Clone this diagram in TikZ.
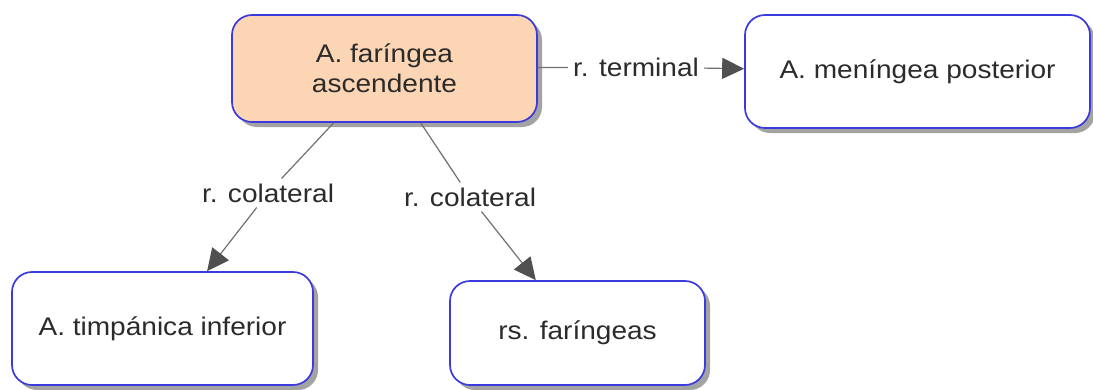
\documentclass[tikz,border=0pt]{standalone}
\usepackage{fontspec}
\setmainfont[FakeStretch=1.1]{Liberation Sans}
\usepackage{xcolor}
\usepackage{tikz}
\usetikzlibrary{arrows.meta, shadows}

\definecolor{boxblue}{HTML}{3B3BDD}
\definecolor{peach}{HTML}{FCD5B4}
\definecolor{linegray}{HTML}{707070}
\definecolor{tipgray}{HTML}{505050}
\definecolor{txtgray}{HTML}{2B2B2B}

\tikzset{
    concept/.style={draw=boxblue, line width=1.7pt, fill=white, rounded corners=20pt,
        align=center, text=txtgray, font=\fontsize{25.5}{30}\selectfont,
        drop shadow={shadow xshift=5pt, shadow yshift=-5pt, fill=gray!80, opacity=0.9}},
    linklabel/.style={text=txtgray, font=\fontsize{25.5}{30}\selectfont, inner sep=5pt},
    link/.style={draw=linegray, line width=1.2pt},
    linkarrow/.style={link, -{Triangle[length=22pt, width=21pt, color=tipgray]}}
}

\begin{document}
\begin{tikzpicture}[x=1pt, y=-1pt]

    \useasboundingbox (0,0) rectangle (1093,389);

    % -------------------------
    % Concepts
    % -------------------------
    \node[concept, fill=peach, minimum width=305pt, minimum height=107pt]
        (faringea) at (384.5,68.5) {A. faríngea\\ascendente};
    \node[concept, minimum width=345pt, minimum height=113pt]
        (meningea) at (917.5,71.5) {A. meníngea posterior};
    \node[concept, minimum width=301pt, minimum height=113pt]
        (timpanica) at (162.5,328.5) {A. timpánica inferior};
    \node[concept, minimum width=255pt, minimum height=104pt]
        (faringeas) at (577.5,333) {rs. faríngeas};

    % -------------------------
    % Link labels
    % -------------------------
    \node[linklabel] (terminal) at (636,67) {r. terminal};
    \node[linklabel] (colizq) at (268,193) {r. colateral};
    \node[linklabel] (colder) at (470,197) {r. colateral};

    % -------------------------
    % Links
    % -------------------------
    \draw[link] (faringea) -- (terminal);
    \draw[linkarrow] (terminal) -- (meningea);

    \draw[link] (faringea) -- (colizq);
    \draw[linkarrow] (colizq) -- (timpanica);

    \draw[link] (faringea) -- (colder);
    \draw[linkarrow] (colder) -- (faringeas);

\end{tikzpicture}
\end{document}
